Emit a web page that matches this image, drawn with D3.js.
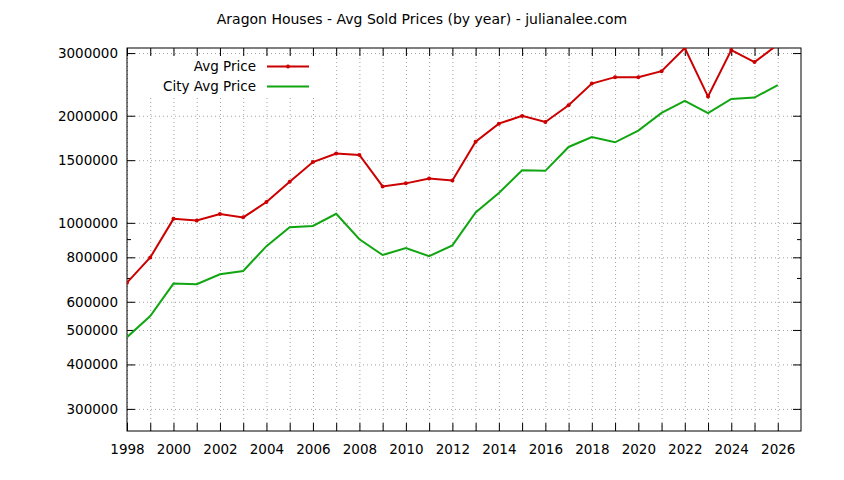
<!DOCTYPE html>
<html>
<head>
<meta charset="utf-8">
<script src="https://cdn.jsdelivr.net/npm/d3@7"></script>
<style>
  body { margin: 0; background: #fff; }
  svg { display: block; }
  text { font-family: "DejaVu Sans", sans-serif; fill: #000; }
  .grid line { stroke: #a0a0a0; stroke-width: 1; stroke-dasharray: 1,3; }
  .grid path { display: none; }
  .axis path { display: none; }
  .axis line { stroke: #000; stroke-width: 1; }
</style>
</head>
<body>
<svg id="chart" width="844" height="480"></svg>
<script>
'use strict';

// data
var years = [1998, 1999, 2000, 2001, 2002, 2003, 2004, 2005, 2006, 2007, 2008, 2009, 2010, 2011, 2012,
             2013, 2014, 2015, 2016, 2017, 2018, 2019, 2020, 2021, 2022, 2023, 2024, 2025, 2026];
var avgPrice = [679000, 799000, 1026000, 1016000, 1058000, 1036000, 1144000, 1304000, 1482000, 1565000,
                1551000, 1266000, 1291000, 1333000, 1316000, 1691000, 1900000, 1998000, 1921000, 2141000,
                2463000, 2567000, 2567000, 2669000, 3100000, 2264000, 3060000, 2830000, 3170000];
var cityAvgPrice = [477000, 547000, 675000, 672000, 717000, 732000, 860000, 972000, 980000, 1060000,
                    899000, 812000, 849000, 806000, 864000, 1070000, 1213000, 1405000, 1400000, 1634000,
                    1743000, 1684000, 1816000, 2037000, 2201000, 2033000, 2230000, 2250000, 2437000];
var yTicks = [300000, 400000, 500000, 600000, 800000, 1000000, 1500000, 2000000, 3000000];
var yMinorTicks = [700000, 900000];
var xLabelYears = [1998, 2000, 2002, 2004, 2006, 2008, 2010, 2012, 2014, 2016, 2018, 2020, 2022, 2024, 2026];
var seriesNames = ["Avg Price", "City Avg Price"];
var title = "Aragon Houses - Avg Sold Prices (by year) - julianalee.com";

var W = 844, H = 480;
var plot = { left: 127, right: 801, top: 48, bottom: 431 };

var svg = d3.select("#chart");

var x = d3.scaleLinear().domain([1998, 2027]).range([plot.left, plot.right]);
var y = d3.scaleLog().domain([260000, 3100000]).range([plot.bottom, plot.top]);

var pw = plot.right - plot.left, ph = plot.bottom - plot.top;

// grid
svg.append("g")
    .attr("class", "grid")
    .attr("transform", "translate(0," + plot.bottom + ")")
    .call(d3.axisBottom(x).tickValues(years).tickSize(-ph).tickFormat(""));
svg.append("g")
    .attr("class", "grid")
    .attr("transform", "translate(" + plot.left + ",0)")
    .call(d3.axisLeft(y).tickValues(yTicks).tickSize(-pw).tickFormat(""));

// legend background hides the grid behind the key
svg.append("rect")
    .attr("x", plot.left + 1).attr("y", 56)
    .attr("width", 188).attr("height", 39)
    .attr("fill", "#fff");

// axes, ticks pointing inwards
var fmt = function (d) { return String(d); };

svg.append("g")
    .attr("class", "axis")
    .attr("transform", "translate(0," + plot.bottom + ")")
    .call(d3.axisBottom(x).tickValues(years).tickSize(-8).tickFormat(""));
svg.append("g")
    .attr("class", "axis")
    .attr("transform", "translate(0," + plot.bottom + ")")
    .call(d3.axisBottom(x).tickValues(xLabelYears).tickSize(0).tickPadding(13).tickFormat(fmt))
    .selectAll("text").style("font-size", "13.5px");
svg.append("g")
    .attr("class", "axis")
    .attr("transform", "translate(0," + plot.top + ")")
    .call(d3.axisTop(x).tickValues(years).tickSize(-8).tickFormat(""));

svg.append("g")
    .attr("class", "axis")
    .attr("transform", "translate(" + plot.left + ",0)")
    .call(d3.axisLeft(y).tickValues(yTicks).tickSize(-8).tickPadding(9).tickFormat(fmt))
    .selectAll("text").style("font-size", "13.5px");
svg.append("g")
    .attr("class", "axis")
    .attr("transform", "translate(" + plot.left + ",0)")
    .call(d3.axisLeft(y).tickValues(yMinorTicks).tickSize(-4).tickFormat(""));
svg.append("g")
    .attr("class", "axis")
    .attr("transform", "translate(" + plot.right + ",0)")
    .call(d3.axisRight(y).tickValues(yTicks).tickSize(-8).tickFormat(""));
svg.append("g")
    .attr("class", "axis")
    .attr("transform", "translate(" + plot.right + ",0)")
    .call(d3.axisRight(y).tickValues(yMinorTicks).tickSize(-4).tickFormat(""));

// border
svg.append("rect")
    .attr("x", plot.left).attr("y", plot.top)
    .attr("width", pw).attr("height", ph)
    .attr("fill", "none").attr("stroke", "#000").attr("stroke-width", 1);

svg.append("clipPath").attr("id", "clip")
  .append("rect")
    .attr("x", plot.left).attr("y", plot.top)
    .attr("width", pw).attr("height", ph);

var line = d3.line()
    .x(function (d) { return x(d[0]); })
    .y(function (d) { return y(d[1]); });

var colors = ["#cc0000", "#11a611"];
var series = [d3.zip(years, avgPrice), d3.zip(years, cityAvgPrice)];

var g = svg.append("g").attr("clip-path", "url(#clip)");

g.append("path")
    .datum(series[1])
    .attr("d", line)
    .attr("fill", "none").attr("stroke", colors[1]).attr("stroke-width", 2);

g.append("path")
    .datum(series[0])
    .attr("d", line)
    .attr("fill", "none").attr("stroke", colors[0]).attr("stroke-width", 2);

g.selectAll("circle.pt")
    .data(series[0])
  .enter().append("circle")
    .attr("class", "pt")
    .attr("cx", function (d) { return x(d[0]); })
    .attr("cy", function (d) { return y(d[1]); })
    .attr("r", 2)
    .attr("fill", colors[0]);

// legend
var legend = svg.append("g");
seriesNames.forEach(function (name, i) {
  var ly = 66.5 + i * 20;
  legend.append("text")
      .attr("x", 256).attr("y", ly)
      .attr("dy", "0.35em")
      .attr("text-anchor", "end")
      .style("font-size", "13.5px")
      .text(name);
  legend.append("line")
      .attr("x1", 267).attr("x2", 309)
      .attr("y1", ly).attr("y2", ly)
      .attr("stroke", colors[i]).attr("stroke-width", 2);
  if (i === 0) {
    legend.append("circle")
        .attr("cx", 288).attr("cy", ly).attr("r", 2)
        .attr("fill", colors[i]);
  }
});

// title
svg.append("text")
    .attr("x", W / 2).attr("y", 24)
    .attr("text-anchor", "middle")
    .style("font-size", "14px")
    .text(title);
</script>
</body>
</html>
